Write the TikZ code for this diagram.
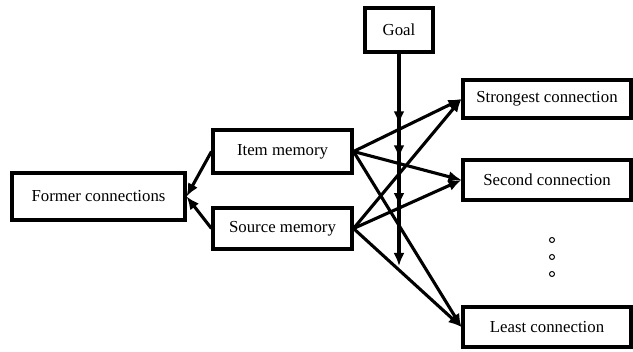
\documentclass[tikz,border=0pt]{standalone}
\usepackage{fontspec}
\setmainfont{Liberation Serif}
\usetikzlibrary{arrows.meta,decorations.markings}

\tikzset{
  tip/.tip={Latex[length=13pt,width=11pt]},
  box/.style={draw, line width=3.1pt, rectangle, inner sep=0pt, fill=white,
    font=\fontsize{16.8}{20}\selectfont},
  link/.style={line width=3.1pt, -tip},
  tipmark/.style={decoration={markings,
      mark=at position 0.333 with {\arrow{tip}},
      mark=at position 0.493 with {\arrow{tip}},
      mark=at position 0.718 with {\arrow{tip}}},
    postaction={decorate}},
  dot/.style={draw, line width=1pt, circle, inner sep=0pt, minimum size=5pt}
}

\begin{document}
\begin{tikzpicture}[x=1pt,y=-1pt]
  \useasboundingbox (0,0) rectangle (633,352);

  % boxes
  \node[box, minimum width=68pt,  minimum height=44pt] (goal)   at (399,30)    {Goal};
  \node[box, minimum width=168pt, minimum height=38pt] (strong) at (547,99)    {Strongest connection};
  \node[box, minimum width=168pt, minimum height=40pt] (second) at (547,180)   {Second connection};
  \node[box, minimum width=168pt, minimum height=40pt] (least)  at (547,327)   {Least connection};
  \node[box, minimum width=139pt, minimum height=43pt] (item)   at (282.5,151.5) {Item memory};
  \node[box, minimum width=139pt, minimum height=41pt] (source) at (282.5,228.5) {Source memory};
  \node[box, minimum width=173pt, minimum height=47pt] (former) at (98.5,196.5) {Former connections};

  % memories feed back into former connections
  \draw[link] (item.west)   -- (former.east);
  \draw[link] (source.west) -- (former.east);

  % memories project onto every connection strength
  \foreach \m in {item,source}
    \foreach \c in {strong,second,least}
      \draw[link] (\m.east) -- (\c.west);

  % goal modulates the projections
  \coordinate (goalend) at (399,266);
  \draw[link, tipmark] (goal.south) -- (goalend);

  % ellipsis between second and least
  \node[dot] (d1) at (552,240) {};
  \node[dot] (d2) at (552,257) {};
  \node[dot] (d3) at (552,274) {};
\end{tikzpicture}
\end{document}
